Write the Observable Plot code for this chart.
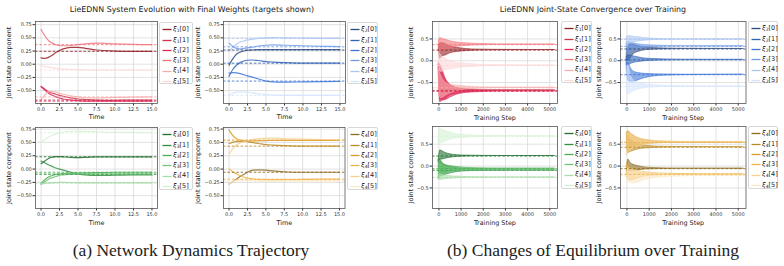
<!DOCTYPE html>
<html><head><meta charset="utf-8">
<script src="https://cdn.jsdelivr.net/npm/d3@7"></script>
<script src="https://cdn.jsdelivr.net/npm/@observablehq/plot@0.6"></script>
<style>
body{margin:0;background:#fff}
#fig{position:relative;width:784px;height:266px;overflow:hidden;font-family:"DejaVu Sans",sans-serif;color:#222;background:#fff}
#fig svg{z-index:1}
.abs{position:absolute;white-space:nowrap;line-height:1;z-index:5}
.title{font-size:7.9px;transform:translate(-50%,-50%)}
.legend{position:absolute;z-index:6;border:0.8px solid #d8d8d8;border-radius:2px;background:#fff;box-sizing:border-box}
.lrow{position:absolute;left:0;font-size:6.5px;white-space:nowrap;line-height:1}
.lrow sub{font-size:70%;vertical-align:-0.25em;line-height:0}
.caption{font-family:"Liberation Serif","Times New Roman",serif;font-size:17.5px;transform:translate(-50%,-50%)}
</style></head><body><div id="fig"></div><script>
// ---- time axis of the trajectory panels ----
const timeA = [0, 0.5, 1, 1.5, 2, 2.5, 3, 4, 5, 6, 7.5, 10, 12.5, 15];

// trajectories of each joint-state component, xi_k[i] over time
const xi1Traj = [
  [0.12, 0.11, 0.13, 0.17, 0.22, 0.26, 0.29, 0.32, 0.32, 0.30, 0.27, 0.25, 0.245, 0.245],
  [-0.42, -0.47, -0.52, -0.55, -0.57, -0.59, -0.61, -0.64, -0.66, -0.67, -0.68, -0.685, -0.68, -0.68],
  [-0.43, -0.49, -0.55, -0.59, -0.62, -0.64, -0.66, -0.68, -0.69, -0.70, -0.70, -0.70, -0.70, -0.70],
  [0.66, 0.54, 0.45, 0.40, 0.37, 0.355, 0.35, 0.355, 0.37, 0.385, 0.40, 0.385, 0.375, 0.37],
  [-0.68, -0.58, -0.52, -0.52, -0.53, -0.55, -0.57, -0.60, -0.62, -0.635, -0.64, -0.63, -0.625, -0.62],
  [-0.03, -0.04, -0.05, -0.065, -0.08, -0.09, -0.095, -0.10, -0.105, -0.11, -0.11, -0.11, -0.11, -0.11]
];
const xi2Traj = [
  [-0.02, 0.10, 0.19, 0.23, 0.25, 0.265, 0.27, 0.275, 0.275, 0.275, 0.275, 0.275, 0.275, 0.275],
  [-0.23, -0.10, -0.02, 0.03, 0.06, 0.075, 0.08, 0.07, 0.05, 0.04, 0.03, 0.02, 0.02, 0.02],
  [-0.17, -0.16, -0.165, -0.18, -0.20, -0.22, -0.24, -0.28, -0.32, -0.335, -0.34, -0.335, -0.33, -0.325],
  [0.40, 0.34, 0.30, 0.29, 0.30, 0.31, 0.32, 0.345, 0.36, 0.365, 0.36, 0.35, 0.34, 0.335],
  [0.25, 0.32, 0.38, 0.42, 0.44, 0.46, 0.47, 0.49, 0.50, 0.505, 0.50, 0.495, 0.49, 0.49],
  [-0.60, -0.55, -0.53, -0.525, -0.525, -0.53, -0.54, -0.56, -0.575, -0.585, -0.59, -0.59, -0.59, -0.59]
];
const xi3Traj = [
  [0.10, 0.15, 0.20, 0.225, 0.235, 0.235, 0.23, 0.22, 0.215, 0.22, 0.23, 0.23, 0.23, 0.23],
  [0.15, 0.12, 0.08, 0.05, 0.02, 0.00, -0.02, -0.06, -0.09, -0.11, -0.12, -0.115, -0.11, -0.11],
  [-0.27, -0.20, -0.15, -0.12, -0.10, -0.09, -0.085, -0.08, -0.075, -0.07, -0.065, -0.06, -0.06, -0.06],
  [-0.29, -0.24, -0.19, -0.16, -0.14, -0.12, -0.11, -0.10, -0.095, -0.09, -0.09, -0.09, -0.09, -0.09],
  [-0.28, -0.27, -0.265, -0.26, -0.255, -0.25, -0.25, -0.255, -0.26, -0.26, -0.26, -0.26, -0.26, -0.26],
  [0.50, 0.55, 0.60, 0.63, 0.66, 0.68, 0.695, 0.71, 0.71, 0.705, 0.70, 0.69, 0.69, 0.685]
];
const xi4Traj = [
  [-0.28, -0.24, -0.19, -0.14, -0.10, -0.06, -0.03, -0.015, -0.02, -0.035, -0.05, -0.06, -0.06, -0.06],
  [0.48, 0.50, 0.515, 0.52, 0.52, 0.515, 0.50, 0.48, 0.46, 0.45, 0.44, 0.43, 0.43, 0.43],
  [0.73, 0.63, 0.57, 0.545, 0.53, 0.525, 0.525, 0.53, 0.535, 0.54, 0.54, 0.54, 0.54, 0.54],
  [0.0, -0.05, -0.09, -0.12, -0.15, -0.17, -0.18, -0.195, -0.20, -0.20, -0.20, -0.195, -0.19, -0.19],
  [0.28, 0.38, 0.45, 0.49, 0.51, 0.53, 0.55, 0.57, 0.58, 0.58, 0.57, 0.56, 0.555, 0.55],
  [-0.28, -0.24, -0.21, -0.20, -0.205, -0.21, -0.215, -0.22, -0.23, -0.23, -0.225, -0.22, -0.22, -0.22]
];

// equilibrium targets given by the final weights
const xi1Target = [0.245, -0.68, -0.70, 0.37, -0.62, -0.11];
const xi2Target = [0.27, 0.02, -0.32, 0.33, 0.49, -0.59];
const xi3Target = [0.23, -0.10, -0.06, -0.09, -0.26, 0.68];
const xi4Target = [-0.06, 0.43, 0.54, -0.19, 0.55, -0.22];

// ---- training steps of the convergence panels ----
const stepsB = [0, 60, 150, 300, 500, 800, 1200, 1800, 2600, 5250];

// spread (low / high envelope) of each component while training
const xi1Low = [
  [0.2, 0.05, 0.1, 0.12, 0.17, 0.2, 0.22, 0.235, 0.24, 0.245],
  [-0.4, -0.9, -0.9, -0.88, -0.8, -0.76, -0.72, -0.7, -0.685, -0.68],
  [-0.3, -0.95, -0.92, -0.9, -0.85, -0.78, -0.74, -0.72, -0.705, -0.70],
  [0.3, 0.2, 0.22, 0.25, 0.28, 0.32, 0.34, 0.355, 0.365, 0.37],
  [-0.5, -0.85, -0.85, -0.8, -0.75, -0.7, -0.66, -0.64, -0.625, -0.62],
  [-0.05, -0.25, -0.25, -0.22, -0.2, -0.17, -0.15, -0.13, -0.12, -0.11]
];
const xi1High = [
  [0.3, 0.4, 0.4, 0.38, 0.33, 0.3, 0.27, 0.255, 0.25, 0.245],
  [-0.1, -0.15, -0.25, -0.45, -0.55, -0.62, -0.65, -0.67, -0.675, -0.68],
  [-0.05, -0.1, -0.2, -0.4, -0.55, -0.63, -0.67, -0.69, -0.695, -0.70],
  [0.45, 0.52, 0.5, 0.48, 0.45, 0.42, 0.4, 0.385, 0.375, 0.37],
  [-0.2, -0.3, -0.4, -0.5, -0.55, -0.57, -0.59, -0.61, -0.615, -0.62],
  [0.2, 0.15, 0.1, 0.05, 0.0, -0.05, -0.07, -0.09, -0.1, -0.11]
];
const xi2Low = [
  [0.0, 0.0, 0.05, 0.15, 0.2, 0.24, 0.255, 0.265, 0.27, 0.27],
  [-0.1, -0.12, -0.08, -0.05, -0.03, -0.01, 0.0, 0.01, 0.015, 0.02],
  [-0.3, -0.45, -0.48, -0.48, -0.45, -0.4, -0.36, -0.34, -0.33, -0.32],
  [0.2, 0.15, 0.2, 0.25, 0.28, 0.3, 0.315, 0.325, 0.33, 0.33],
  [0.4, 0.38, 0.4, 0.42, 0.44, 0.46, 0.475, 0.485, 0.49, 0.49],
  [-0.7, -0.78, -0.75, -0.7, -0.66, -0.63, -0.61, -0.6, -0.595, -0.59]
];
const xi2High = [
  [0.2, 0.3, 0.38, 0.37, 0.34, 0.31, 0.29, 0.28, 0.275, 0.27],
  [0.1, 0.12, 0.12, 0.1, 0.08, 0.05, 0.04, 0.03, 0.025, 0.02],
  [-0.05, -0.05, -0.15, -0.25, -0.28, -0.3, -0.31, -0.315, -0.32, -0.32],
  [0.4, 0.42, 0.42, 0.4, 0.38, 0.36, 0.35, 0.34, 0.335, 0.33],
  [0.55, 0.57, 0.56, 0.55, 0.54, 0.52, 0.505, 0.495, 0.49, 0.49],
  [-0.3, -0.1, -0.3, -0.45, -0.5, -0.54, -0.56, -0.575, -0.585, -0.59]
];
const xi3Low = [
  [0.1, 0.15, 0.15, 0.17, 0.19, 0.21, 0.22, 0.225, 0.23, 0.23],
  [-0.1, -0.2, -0.22, -0.2, -0.17, -0.14, -0.12, -0.11, -0.105, -0.1],
  [-0.3, -0.2, -0.18, -0.15, -0.12, -0.1, -0.08, -0.07, -0.065, -0.06],
  [-0.3, -0.25, -0.22, -0.18, -0.15, -0.12, -0.11, -0.1, -0.095, -0.09],
  [-0.3, -0.32, -0.31, -0.3, -0.29, -0.28, -0.27, -0.265, -0.26, -0.26],
  [0.5, 0.52, 0.53, 0.56, 0.6, 0.63, 0.65, 0.67, 0.675, 0.68]
];
const xi3High = [
  [0.2, 0.36, 0.34, 0.3, 0.27, 0.25, 0.24, 0.235, 0.23, 0.23],
  [0.15, 0.15, 0.08, 0.02, -0.02, -0.05, -0.07, -0.085, -0.095, -0.1],
  [-0.1, 0.1, 0.05, 0.02, 0.0, -0.02, -0.04, -0.05, -0.055, -0.06],
  [-0.1, 0.05, 0.02, -0.02, -0.04, -0.06, -0.07, -0.08, -0.085, -0.09],
  [-0.2, -0.18, -0.2, -0.22, -0.23, -0.24, -0.25, -0.255, -0.26, -0.26],
  [0.75, 0.85, 0.83, 0.8, 0.77, 0.73, 0.71, 0.69, 0.685, 0.68]
];
const xi4Low = [
  [-0.25, -0.1, -0.12, -0.11, -0.1, -0.08, -0.07, -0.065, -0.06, -0.06],
  [0.45, 0.3, 0.32, 0.35, 0.38, 0.4, 0.415, 0.425, 0.43, 0.43],
  [0.6, 0.4, 0.42, 0.45, 0.48, 0.5, 0.52, 0.53, 0.535, 0.54],
  [-0.1, -0.3, -0.33, -0.32, -0.28, -0.24, -0.22, -0.2, -0.195, -0.19],
  [0.25, 0.3, 0.35, 0.4, 0.44, 0.48, 0.51, 0.53, 0.545, 0.55],
  [-0.3, -0.35, -0.38, -0.4, -0.38, -0.32, -0.28, -0.25, -0.23, -0.22]
];
const xi4High = [
  [0.0, 0.15, 0.08, 0.03, 0.0, -0.03, -0.045, -0.055, -0.06, -0.06],
  [0.55, 0.7, 0.6, 0.55, 0.5, 0.47, 0.45, 0.44, 0.435, 0.43],
  [0.75, 0.8, 0.75, 0.7, 0.64, 0.6, 0.57, 0.55, 0.545, 0.54],
  [0.05, 0.0, -0.05, -0.08, -0.11, -0.14, -0.16, -0.175, -0.185, -0.19],
  [0.45, 0.75, 0.72, 0.68, 0.64, 0.6, 0.58, 0.565, 0.555, 0.55],
  [-0.2, -0.05, -0.08, -0.1, -0.12, -0.15, -0.17, -0.19, -0.21, -0.22]
];

// ---- tick labels ----
const timeTicks = [0, 2.5, 5, 7.5, 10, 12.5, 15];
const stateTicksA = [-0.5, -0.25, 0, 0.25, 0.5, 0.75];
const stepTicks = [0, 1000, 2000, 3000, 4000, 5000];
const stateTicksB = [-0.5, 0, 0.5];

// ---- colour families, one per group ----
const reds = ["#931f24", "#cc3446", "#e3245a", "#f1747b", "#f6adad", "#fbd7d7"];
const blues = ["#2b4a80", "#2f62b5", "#3d74d6", "#6f9ae6", "#a9c6f3", "#d5e4fb"];
const greens = ["#1e6e2e", "#2f8f3f", "#4aae55", "#72c47a", "#a8dca8", "#d6f1d3"];
const golds = ["#8c6a1e", "#b98a22", "#dc9a25", "#f0b348", "#f6d08f", "#fbe7c6"];

const fig = document.getElementById("fig");

function addText(cls, x, y, html) {
  const d = document.createElement("div");
  d.className = "abs " + cls;
  d.style.left = x + "px";
  d.style.top = y + "px";
  d.innerHTML = html;
  fig.appendChild(d);
  return d;
}

function addLegend(box, k, colors) {
  const lg = document.createElement("div");
  lg.className = "legend";
  Object.assign(lg.style, {left: box.x + "px", top: box.y + "px", width: box.w + "px", height: box.h + "px"});
  colors.forEach((c, i) => {
    const cy = 6.8 + i * 10.3;
    const row = document.createElement("div");
    row.className = "lrow";
    row.style.top = (cy - 3.6) + "px";
    row.innerHTML = `<svg width="11" height="7" style="position:absolute;left:2px;top:0.2px"><line x1="0.5" x2="9.5" y1="3.5" y2="3.5" stroke="${c}" stroke-width="1.3"/></svg>` +
      `<span style="position:absolute;left:13px;top:0"><i>ξ</i><sub>${k}</sub>[${i}]</span>`;
    lg.appendChild(row);
  });
  fig.appendChild(lg);
}

function panel(cfg) {
  const ml = 30, mr = 2, mt = 2, mb = 20;
  const f = cfg.frame;
  const w = f.r - f.l, h = f.b - f.t;
  const marks = [
    Plot.ruleX(cfg.xTicks, {stroke: "#d6d6d6", strokeWidth: 0.7}),
    Plot.ruleY(cfg.yTicks, {stroke: "#d6d6d6", strokeWidth: 0.7}),
    ...cfg.dataMarks,
    ...cfg.targets.map((v, i) => Plot.ruleY([v], {stroke: cfg.colors[i], strokeWidth: 0.9, strokeDasharray: "2.6,1.8", strokeOpacity: 0.95})),
    Plot.frame({stroke: "#555", strokeWidth: 0.8}),
    // axis titles, anchored on the frame
    Plot.text([cfg.xLabel], {frameAnchor: "bottom", dy: cfg.xLabelDy, lineAnchor: "middle", fontSize: 6.4, fill: "#222"}),
    Plot.text(["Joint state component"], {frameAnchor: "left", dx: cfg.yLabelDx, rotate: -90, textAnchor: "middle", lineAnchor: "middle", fontSize: 6.5, fill: "#222"})
  ];
  const svg = Plot.plot({
    width: w + ml + mr,
    height: h + mt + mb,
    marginLeft: ml, marginRight: mr, marginTop: mt, marginBottom: mb,
    style: {fontFamily: "DejaVu Sans, sans-serif", fontSize: "5px", color: "#333", background: "transparent", overflow: "visible"},
    x: {domain: cfg.xDomain, ticks: cfg.xTicks, tickFormat: cfg.xFormat, tickSize: 2.5, tickPadding: 1.2, label: null},
    y: {domain: cfg.yDomain, ticks: cfg.yTicks, tickFormat: cfg.yFormat, tickSize: 2.5, tickPadding: 1.2, label: null},
    marks
  });
  svg.style.position = "absolute";
  svg.style.left = (f.l - ml) + "px";
  svg.style.top = (f.t - mt) + "px";
  fig.appendChild(svg);

  addLegend(cfg.legend, cfg.k, cfg.colors);
}

function trajMarks(traj, colors) {
  return traj.map((vals, i) => Plot.line(timeA.map((t, j) => ({t, v: vals[j]})),
    {x: "t", y: "v", stroke: colors[i], strokeWidth: 1.2, strokeOpacity: 0.85, curve: "monotone-x"}));
}

function bandMarks(lo, hi, colors) {
  return lo.map((l, i) => Plot.areaY(stepsB.map((s, j) => ({s, lo: l[j], hi: hi[i][j]})),
    {x: "s", y1: "lo", y2: "hi", fill: colors[i], fillOpacity: 0.6, stroke: colors[i], strokeWidth: 0.6, curve: "monotone-x"}));
}

const fmtA = d3.format(".2f"), fmtT = d3.format(".1f"), fmtB = d3.format(".1f"), fmtS = d3.format("d");

const aPanels = [
  {k: 1, traj: xi1Traj, tgt: xi1Target, colors: reds, frame: {l: 35, r: 157, t: 21, b: 103}, yDomain: [-0.745, 0.81], legend: {x: 159, y: 22, w: 34, h: 62}, yLabelDx: -26.5, xLabelDy: 13.5},
  {k: 2, traj: xi2Traj, tgt: xi2Target, colors: blues, frame: {l: 223, r: 345, t: 21, b: 103}, yDomain: [-0.745, 0.81], legend: {x: 347, y: 22, w: 31, h: 62}, yLabelDx: -26, xLabelDy: 13.5},
  {k: 3, traj: xi3Traj, tgt: xi3Target, colors: greens, frame: {l: 35, r: 157, t: 127, b: 208}, yDomain: [-0.74, 0.78], legend: {x: 159, y: 127, w: 34, h: 63}, yLabelDx: -26.5, xLabelDy: 14},
  {k: 4, traj: xi4Traj, tgt: xi4Target, colors: golds, frame: {l: 223, r: 344.5, t: 127, b: 208}, yDomain: [-0.74, 0.78], legend: {x: 347, y: 127, w: 31, h: 63}, yLabelDx: -26, xLabelDy: 14}
];
aPanels.forEach(p => panel({
  ...p, targets: p.tgt, xDomain: [-0.75, 15.75], xTicks: timeTicks, yTicks: stateTicksA,
  xFormat: fmtT, yFormat: fmtA, xLabel: "Time", dataMarks: trajMarks(p.traj, p.colors)
}));

const bPanels = [
  {k: 1, lo: xi1Low, hi: xi1High, tgt: xi1Target, colors: reds, frame: {l: 432, r: 557, t: 21, b: 103}, yDomain: [-0.98, 0.9], legend: {x: 561, y: 21, w: 31, h: 62}, yLabelDx: -22, xLabelDy: 14},
  {k: 2, lo: xi2Low, hi: xi2High, tgt: xi2Target, colors: blues, frame: {l: 620, r: 745.5, t: 21, b: 103}, yDomain: [-0.98, 0.9], legend: {x: 748, y: 21, w: 30, h: 62}, yLabelDx: -21.5, xLabelDy: 14},
  {k: 3, lo: xi3Low, hi: xi3High, tgt: xi3Target, colors: greens, frame: {l: 432, r: 557, t: 126, b: 208}, yDomain: [-0.97, 0.905], legend: {x: 561, y: 126, w: 31, h: 63}, yLabelDx: -22, xLabelDy: 14},
  {k: 4, lo: xi4Low, hi: xi4High, tgt: xi4Target, colors: golds, frame: {l: 620, r: 745.5, t: 126, b: 208}, yDomain: [-0.97, 0.905], legend: {x: 748, y: 126, w: 30, h: 63}, yLabelDx: -21.5, xLabelDy: 14}
];
bPanels.forEach(p => panel({
  ...p, targets: p.tgt, xDomain: [-290, 5350], xTicks: stepTicks, yTicks: stateTicksB,
  xFormat: fmtS, yFormat: fmtB, xLabel: "Training Step", dataMarks: bandMarks(p.lo, p.hi, p.colors)
}));

addText("title", 192, 10, "LieEDNN System Evolution with Final Weights (targets shown)");
addText("title", 593, 10, "LieEDNN Joint-State Convergence over Training");
addText("caption", 191, 251, "(a) Network Dynamics Trajectory");
addText("caption", 593, 251, "(b) Changes of Equilibrium over Training");
</script></body></html>
